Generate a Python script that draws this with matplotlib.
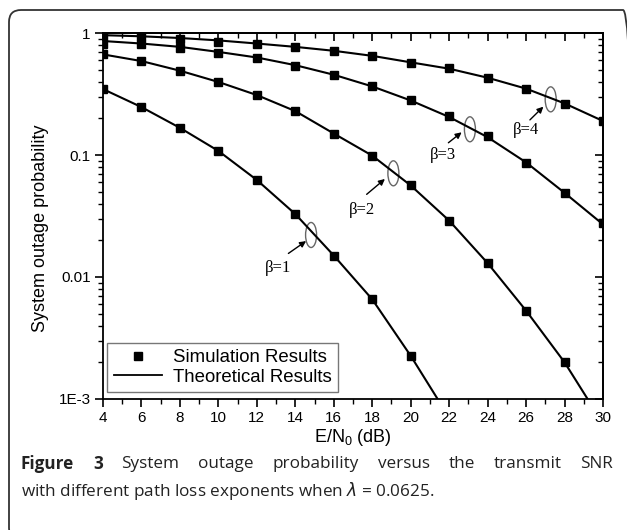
import numpy as np
import matplotlib
matplotlib.use('Agg')
import matplotlib.pyplot as plt
from matplotlib.lines import Line2D
from matplotlib.patches import Ellipse, FancyBboxPatch
from matplotlib.ticker import FixedLocator, FixedFormatter, MultipleLocator, LogLocator, NullFormatter
from matplotlib.transforms import ScaledTranslation, IdentityTransform

plt.rcParams['font.family'] = ['Liberation Sans', 'DejaVu Sans']

# simulation points (E/N0 in dB)
snr = [4, 6, 8, 10, 12, 14, 16, 18, 20, 22, 24, 26, 28, 30]
sim_b1 = [0.347, 0.247, 0.167, 0.108, 0.0624, 0.0328, 0.0150, 0.00656, 0.00226]
sim_b2 = [0.668, 0.589, 0.491, 0.397, 0.310, 0.229, 0.150, 0.0988, 0.0563,
          0.029, 0.0130, 0.0053, 0.0020]
sim_b3 = [0.82, 0.81, 0.75, 0.68, 0.62, 0.54, 0.453, 0.368, 0.282, 0.21,
          0.143, 0.0865, 0.0485, 0.0279]
sim_b4 = [0.95, 0.94, 0.89, 0.84, 0.82, 0.77, 0.716, 0.652, 0.571, 0.513,
          0.43, 0.347, 0.26, 0.19]

# theoretical curves
th_x_b1 = [4, 6, 8, 10, 12, 14, 16, 18, 20, 21.4]
th_b1 = [0.347, 0.247, 0.167, 0.108, 0.0624, 0.0328, 0.0150, 0.00656, 0.00226, 0.001]
th_x_b2 = [4, 6, 8, 10, 12, 14, 16, 18, 20, 22, 24, 26, 28, 29.2]
th_b2 = [0.668, 0.589, 0.491, 0.397, 0.310, 0.229, 0.150, 0.0988, 0.0563,
         0.029, 0.0130, 0.0053, 0.0020, 0.001]
th_b3 = [0.86, 0.82, 0.77, 0.70, 0.63, 0.545, 0.455, 0.365, 0.28, 0.205,
         0.14, 0.087, 0.049, 0.027]
th_b4 = [0.96, 0.94, 0.91, 0.87, 0.82, 0.77, 0.715, 0.65, 0.575, 0.51,
         0.43, 0.35, 0.265, 0.19]

ytick_vals = [1e-3, 1e-2, 0.1, 1]
ytick_labels = ['1E-3', '0.01', '0.1', '1']

fig = plt.figure(figsize=(6.27, 5.30), dpi=100)
ax = fig.add_axes([0.1643, 0.2472, 0.7974, 0.6905])

ax.plot(th_x_b1, th_b1, color='black', lw=1.5)
ax.plot(th_x_b2, th_b2, color='black', lw=1.5)
ax.plot(snr, th_b3, color='black', lw=1.5)
ax.plot(snr, th_b4, color='black', lw=1.5)

sq = dict(ls='none', marker='s', ms=6, color='black')
ax.plot(snr[:len(sim_b1)], sim_b1, **sq)
ax.plot(snr[:len(sim_b2)], sim_b2, **sq)
ax.plot(snr, sim_b3, **sq)
ax.plot(snr, sim_b4, **sq)

ax.set_yscale('log')
ax.set_xlim(4, 30)
ax.set_ylim(1e-3, 1)
ax.xaxis.set_major_locator(MultipleLocator(2))
ax.xaxis.set_minor_locator(MultipleLocator(1))
ax.yaxis.set_major_locator(FixedLocator(ytick_vals))
ax.yaxis.set_major_formatter(FixedFormatter(ytick_labels))
ax.yaxis.set_minor_locator(LogLocator(base=10, subs=np.arange(2, 10)))
ax.yaxis.set_minor_formatter(NullFormatter())
ax.tick_params(which='major', direction='out', length=6, width=1.2, labelsize=11, pad=3)
ax.tick_params(which='minor', direction='out', length=3.5, width=1.0)
for s in ax.spines.values():
    s.set_linewidth(1.3)

# top / right ticks point inward
top = ax.secondary_xaxis('top')
top.xaxis.set_major_locator(MultipleLocator(2))
top.xaxis.set_minor_locator(MultipleLocator(1))
top.tick_params(which='major', direction='in', length=6, width=1.2, labeltop=False)
top.tick_params(which='minor', direction='in', length=3.5, width=1.0)
right = ax.secondary_yaxis('right')
right.yaxis.set_major_locator(FixedLocator(ytick_vals))
right.yaxis.set_minor_locator(LogLocator(base=10, subs=np.arange(2, 10)))
right.yaxis.set_minor_formatter(NullFormatter())
right.tick_params(which='major', direction='in', length=6, width=1.2, labelright=False)
right.tick_params(which='minor', direction='in', length=3.5, width=1.0)
top.spines['top'].set_linewidth(1.3)
right.spines['right'].set_linewidth(1.3)

ax.set_xlabel('E/N$_{\\mathregular{0}}$ (dB)', fontsize=13, labelpad=1)
ax.set_ylabel('System outage probability', fontsize=13)
ax.yaxis.set_label_coords(-0.108, 0.467)

# beta annotations: ellipse centre, arrow tail, arrow head, label
notes = [
    ('\u03b2=1', (14.82, 0.0221), (13.64, 0.0156), (14.56, 0.0197), (13.08, 0.0118)),
    ('\u03b2=2', (19.10, 0.0708), (17.71, 0.0476), (18.66, 0.0636), (17.45, 0.0354)),
    ('\u03b2=3', (23.08, 0.1625), (21.96, 0.126), (22.65, 0.1535), (21.70, 0.100)),
    ('\u03b2=4', (27.28, 0.286), (26.20, 0.194), (26.90, 0.249), (26.00, 0.160)),
]
for lab, c, tail, head, lp in notes:
    tr = fig.dpi_scale_trans + ScaledTranslation(c[0], c[1], ax.transData)
    ax.add_patch(Ellipse((0, 0), 0.11, 0.25, transform=tr, fill=False,
                         ec='#666666', lw=1.0, clip_on=False))
    ax.annotate('', xy=head, xytext=tail,
                arrowprops=dict(arrowstyle='-|>', color='black', lw=1.0,
                                mutation_scale=9, shrinkA=0, shrinkB=0))
    ax.text(lp[0], lp[1], lab, ha='center', va='center', fontsize=12,
            family=['Liberation Serif', 'DejaVu Serif'])

handles = [Line2D([], [], ls='none', marker='s', ms=6, color='black'),
           Line2D([], [], color='black', lw=1.3)]
leg = ax.legend(handles, ['Simulation Results', 'Theoretical Results'],
                loc='lower left', bbox_to_anchor=(0.008, 0.019), borderaxespad=0,
                fontsize=13.4, fancybox=False, framealpha=1, edgecolor='#777777',
                handlelength=2.6, handletextpad=0.6, borderpad=0.35, labelspacing=0.12)
leg.get_frame().set_linewidth(1.0)

# outer frame
frame = FancyBboxPatch((9, -10), 626, 530, boxstyle='round,pad=0,rounding_size=12',
                       transform=IdentityTransform(), fill=False, ec='#333333', lw=1.3)
fig.add_artist(frame)

# caption, first line justified between x0 and x1
cap_font = ['Open Sans', 'DejaVu Sans']
cap_col = '#222222'
cap_size = 12.3
x0, x1 = 21, 613
line1 = [('Figure', 'bold'), ('3', 'bold'), ('System', 'normal'), ('outage', 'normal'),
         ('probability', 'normal'), ('versus', 'normal'), ('the', 'normal'),
         ('transmit', 'normal'), ('SNR', 'normal')]
words = [fig.text(0, 1 - 464 / 530, w, fontsize=cap_size, fontweight=fw, family=cap_font,
                  va='center', color=cap_col) for w, fw in line1]
fig.canvas.draw()
rend = fig.canvas.get_renderer()
widths = [t.get_window_extent(rend).width for t in words]
gap = (x1 - x0 - sum(widths)) / (len(words) - 1)
xpos = x0
for t, w in zip(words, widths):
    t.set_x(xpos / 627)
    xpos += w + gap
fig.text(x0 / 627, 1 - 491 / 530,
         'with different path loss exponents when $\\lambda$ = 0.0625.',
         fontsize=cap_size, family=cap_font, va='center', color=cap_col)

fig.savefig('out.png', dpi=100)
